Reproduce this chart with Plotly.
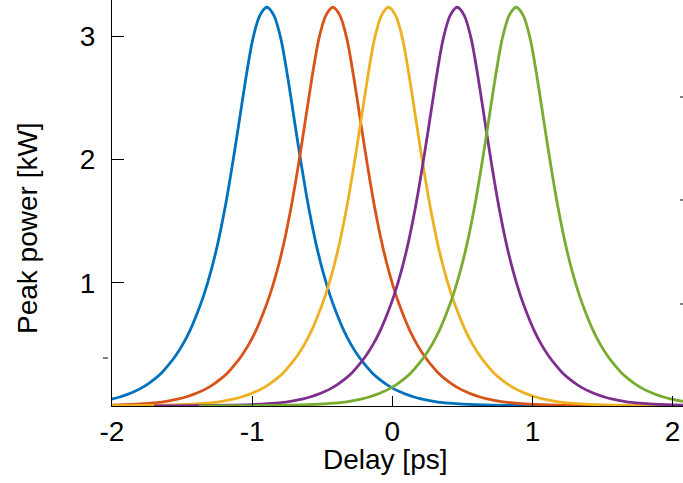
import plotly.graph_objects as go

# Pulse profile: offset from each pulse peak [ps] and peak power [kW]
pulse_offset = [-3.0, -2.3, -1.9, -1.6, -1.4, -1.3, -1.2, -1.1, -1.05, -1.0, -0.95, -0.9, -0.85,
                -0.8, -0.75, -0.7, -0.65, -0.6, -0.55, -0.5, -0.45, -0.4, -0.35, -0.3, -0.25,
                -0.2, -0.15, -0.1, -0.05, 0.0, 0.05, 0.1, 0.15, 0.2, 0.25, 0.3, 0.35, 0.4,
                0.45, 0.5, 0.55, 0.6, 0.65, 0.7, 0.75, 0.8, 0.85, 0.9, 0.95, 1.0, 1.05, 1.1,
                1.2, 1.3, 1.4, 1.6, 1.9, 2.3, 3.0]
pulse_power = [0.0, 0.001, 0.003, 0.007, 0.015, 0.023, 0.036, 0.058, 0.073, 0.092, 0.115, 0.143, 0.178,
               0.22, 0.27, 0.335, 0.41, 0.50, 0.61, 0.745, 0.90, 1.09, 1.32, 1.60, 1.93,
               2.29, 2.66, 2.98, 3.17, 3.236, 3.17, 2.98, 2.66, 2.29, 1.93, 1.60, 1.32, 1.09,
               0.90, 0.745, 0.61, 0.50, 0.41, 0.335, 0.27, 0.22, 0.178, 0.143, 0.115, 0.092, 0.073, 0.058,
               0.036, 0.023, 0.015, 0.007, 0.003, 0.001, 0.0]

# Peak delay of each pulse [ps] and where each trace's data begins [ps]
peak_delay = [-0.895, -0.424, -0.027, 0.463, 0.884]
trace_start = [-2.5, -2.5, -2.5, -1.70, -1.38]
colors = ["#0072BD", "#D95319", "#EDB120", "#7E2F8E", "#77AC30"]

x_ticks = [-2, -1, 0, 1, 2]
y_ticks = [1, 2, 3]
x_title = "Delay [ps]"
y_title = "Peak power [kW]"

fig = go.Figure()
for c, s, col in zip(peak_delay, trace_start, colors):
    xs, ys = [s], [0.001]
    for d, p in zip(pulse_offset, pulse_power):
        if c + d > s:
            xs.append(c + d)
            ys.append(p)
    fig.add_trace(go.Scatter(x=xs, y=ys, mode="lines",
                             line=dict(color=col, width=2.8, shape="spline", smoothing=0.8),
                             showlegend=False, hoverinfo="skip"))

font = "Liberation Sans, Arial, Helvetica, sans-serif"
fig.update_layout(
    width=683, height=483,
    margin=dict(l=112, r=0, t=0, b=77),
    paper_bgcolor="white", plot_bgcolor="white",
    font=dict(family=font, size=28, color="#000000"),
)
fig.update_xaxes(range=[-2, 2.074], tickvals=x_ticks, ticktext=[str(v) if v >= 0 else "-" + str(-v) for v in x_ticks],
                 ticks="inside", ticklen=10, tickwidth=1, tickcolor="#000", automargin=False,
                 tickfont=dict(size=28),
                 showline=True, linecolor="#000", linewidth=1, showgrid=False, zeroline=False,
                 ticklabelstandoff=0)
fig.update_yaxes(range=[0, 3.295], tickvals=y_ticks, ticktext=[str(v) for v in y_ticks],
                 ticks="inside", ticklen=12, tickwidth=1, tickcolor="#000", automargin=False,
                 tickfont=dict(size=28),
                 showline=True, linecolor="#000", linewidth=1, showgrid=False, zeroline=False,
                 ticklabelstandoff=10)

fig.add_annotation(text=x_title, xref="paper", yref="paper", x=(385 - 112) / 571, y=(406 - 459) / 406,
                   xanchor="center", yanchor="middle", showarrow=False, font=dict(size=28))
fig.add_annotation(text=y_title, xref="paper", yref="paper", x=(27 - 112) / 571, y=(406 - 228) / 406,
                   xanchor="center", yanchor="middle", textangle=-90, showarrow=False, font=dict(size=28))

# small stray tick fragments visible at the right edge and left side
for py in [97, 200, 304]:
    yp = (406 - py) / 406
    fig.add_shape(type="line", xref="paper", yref="paper", x0=(680 - 112) / 571, x1=1.0,
                  y0=yp, y1=yp, line=dict(color="#000", width=1))
yp = (406 - 358) / 406
fig.add_shape(type="line", xref="paper", yref="paper", x0=(103 - 112) / 571, x1=(108 - 112) / 571,
              y0=yp, y1=yp, line=dict(color="#000", width=1))

fig.write_html("out.html", config={"displayModeBar": False},
               post_script="document.body.style.margin='0';document.body.style.overflow='hidden';")
